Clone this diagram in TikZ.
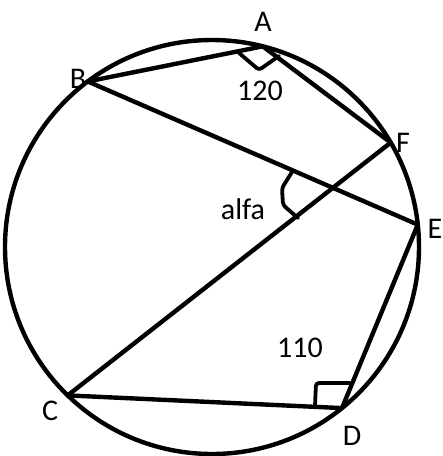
\documentclass[tikz,border=0pt]{standalone}
\usepackage{fontspec}
\setmainfont{Carlito}
\usetikzlibrary{calc}
\begin{document}
\begin{tikzpicture}[x=1pt,y=-1pt,
  geo/.style={line width=4.4pt,line join=round,line cap=round},
  anglemark/.style={line width=3.8pt,line join=round,line cap=round,rounded corners=3pt},
  lbl/.style={font=\fontsize{30}{36}\selectfont,inner sep=0pt}]
\useasboundingbox (0,0) rectangle (443,456);
\coordinate (O) at (212,247);
\coordinate (A) at ($(O)+(-75.8:207)$);
\coordinate (B) at ($(O)+(233.1:207)$);
\coordinate (F) at ($(O)+(-30.3:207)$);
\coordinate (E) at ($(O)+(-6.2:207)$);
\coordinate (C) at ($(O)+(134.2:207)$);
\coordinate (D) at ($(O)+(51.1:207)$);
\draw[geo] (O) circle[radius=207pt];
\draw[geo] (B) -- (A) -- (F);
\draw[geo] (B) -- (E);
\draw[geo] (C) -- (F);
\draw[geo] (C) -- (D) -- (E);
% angle marks
\draw[anglemark] (239,53) -- (259,70) -- (279,56);
\draw[anglemark] (292,172) -- (282,188) -- (283,205) -- (298,218);
\draw[anglemark] (315,406) -- (316,383) -- (350,383);
% labels
\node[lbl] (lA) at (263,22) {A};
\node[lbl] (lB) at (78,79) {B};
\node[lbl] (lF) at (403,143) {F};
\node[lbl] (lE) at (435,229) {E};
\node[lbl] (lC) at (50,411) {C};
\node[lbl] (lD) at (352,436) {D};
\node[lbl] (l120) at (260,91) {120};
\node[lbl] (l110) at (300,348) {110};
\node[lbl] (lalfa) at (243,209) {alfa};
\end{tikzpicture}
\end{document}
